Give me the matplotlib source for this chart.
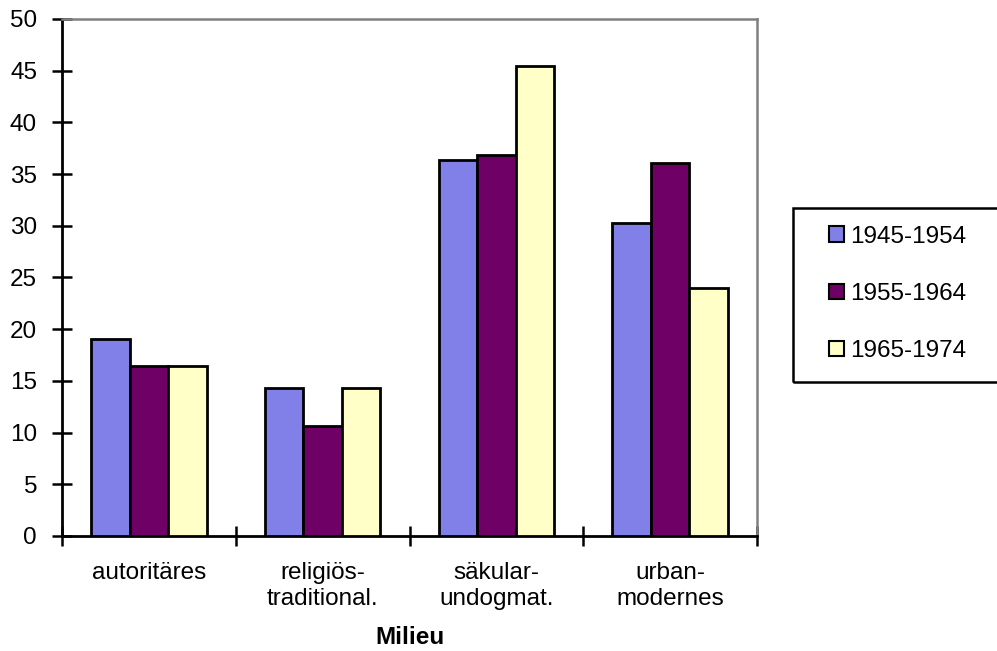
import numpy as np
import matplotlib
matplotlib.use('Agg')
import matplotlib.pyplot as plt
from matplotlib.patches import Rectangle

plt.rcParams['font.family'] = ['Liberation Sans', 'DejaVu Sans']

categories = ['autoritäres', 'religiös-\ntraditional.', 'säkular-\nundogmat.', 'urban-\nmodernes']
series = ['1945-1954', '1955-1964', '1965-1974']
v1945 = [19.1, 14.3, 36.4, 30.3]
v1955 = [16.4, 10.6, 36.8, 36.1]
v1965 = [16.4, 14.3, 45.5, 24.0]
colors = ['#8080e8', '#6e0066', '#ffffc8']
fs = 17.5

fig = plt.figure(figsize=(9.97, 6.51), dpi=100)
ax = fig.add_axes([62 / 997, 1 - 536 / 651, (757 - 62) / 997, (536 - 19) / 651])

x = np.arange(len(categories)) + 0.5
w = 0.222
for i, (vals, lab) in enumerate(zip([v1945, v1955, v1965], series)):
    ax.bar(x + (i - 1) * w, vals, w, color=colors[i], edgecolor='black',
           linewidth=2.0, label=lab, zorder=3)

ax.set_xlim(0, 4)
ax.set_ylim(0, 50)
ax.set_yticks(range(0, 51, 5))
ax.set_xticks(range(0, 5))
ax.set_xticklabels([])
ax.set_xticks(x, minor=True)
ax.set_xticklabels(categories, minor=True, fontsize=fs, linespacing=1.2)
ax.tick_params(axis='x', which='minor', length=0, pad=19)
ax.tick_params(axis='x', which='major', direction='inout', length=15, width=1.8)
ax.tick_params(axis='y', direction='inout', length=14, width=1.8, labelsize=fs, pad=11)

for s in ['left', 'bottom']:
    ax.spines[s].set_linewidth(2.0)
    ax.spines[s].set_color('black')
for s in ['top', 'right']:
    ax.spines[s].set_linewidth(1.8)
    ax.spines[s].set_color('#808080')

ax.set_xlabel('Milieu', fontsize=fs, fontweight='bold', labelpad=12)

leg = fig.legend(loc='center left', bbox_to_anchor=(829 / 997, 1 - 294 / 651),
                 fontsize=fs, frameon=False, handlelength=0.6,
                 handleheight=0.6, handletextpad=0.25, labelspacing=1.45,
                 borderpad=0, borderaxespad=0)
for h in leg.legend_handles:
    h.set_linewidth(1.5)
fig.patches.append(Rectangle((793 / 997, 1 - 382 / 651), 0.25, (382 - 208) / 651,
                             transform=fig.transFigure, fill=False,
                             edgecolor='black', linewidth=1.8))

fig.savefig('out.png', dpi=100)
